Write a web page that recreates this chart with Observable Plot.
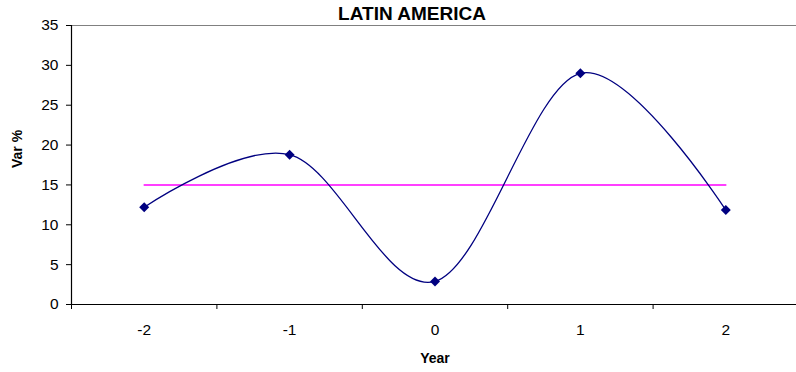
<!DOCTYPE html>
<html>
<head>
<meta charset="utf-8">
<script src="https://cdn.jsdelivr.net/npm/d3@7"></script>
<script src="https://cdn.jsdelivr.net/npm/@observablehq/plot@0.6"></script>
<style>
  html, body { margin: 0; padding: 0; background: #fff; }
  #chart { position: relative; width: 796px; height: 372px; }
  #title { position: absolute; left: 212px; top: 3px; width: 400px; text-align: center;
    font: bold 19px "Liberation Sans", Arial, sans-serif; color: #000; }
  svg { display: block; }
</style>
</head>
<body>
<div id="chart"><div id="title">LATIN AMERICA</div></div>
<script>
const years = [-2, -1, 0, 1, 2];
const values = [12.2, 18.8, 2.9, 29.0, 11.85];
const average = 15;
const yTicks = [0, 5, 10, 15, 20, 25, 30, 35];
const boundaryTicks = [-2.5, -1.5, -0.5, 0.5, 1.5, 2.5];

const series = years.map((x, i) => ({x, y: values[i]}));
const avgLine = [{x: years[0], y: average}, {x: years[years.length - 1], y: average}];

const plot = Plot.plot({
  width: 796,
  height: 372,
  marginLeft: 71,
  marginRight: -2,
  marginTop: 25,
  marginBottom: 68,
  style: {fontFamily: '"Liberation Sans", Arial, sans-serif', fontSize: "15.5px", color: "#000", background: "transparent"},
  x: {domain: [-2.5, 2.5]},
  y: {domain: [0, 35]},
  marks: [
    Plot.ruleY([35], {stroke: "#808080", strokeWidth: 1}),
    Plot.ruleY([0], {stroke: "#000", strokeWidth: 1.2}),
    Plot.ruleX([-2.5], {stroke: "#000", strokeWidth: 1.2, y1: 0, y2: 35}),
    Plot.axisY({ticks: yTicks, tickSize: 5, tickPadding: 8, tickFormat: d => String(d), label: null, stroke: "#000"}),
    Plot.axisX({ticks: boundaryTicks, tickSize: 5, tickFormat: () => "", label: null, stroke: "#000"}),
    Plot.axisX({ticks: years, tickSize: 0, tickPadding: 19, tickFormat: d => d < 0 ? "-" + Math.abs(d) : String(d), label: null}),
    Plot.text(["Var %"], {frameAnchor: "left", dx: -54, dy: 3, rotate: -90, fontWeight: "bold", fontSize: 14, text: d => d}),
    Plot.text(["Year"], {frameAnchor: "bottom", dy: 58, fontWeight: "bold", fontSize: 14, text: d => d}),
    Plot.line(avgLine, {x: "x", y: "y", stroke: "#FF00FF", strokeWidth: 1.5}),
    Plot.line(series, {x: "x", y: "y", stroke: "#000080", strokeWidth: 1.3, curve: "cardinal"}),
    Plot.dot(series, {x: "x", y: "y", symbol: "diamond2", r: 4.5, fill: "#000080", stroke: "none"})
  ]
});
document.getElementById("chart").appendChild(plot);
</script>
</body>
</html>
